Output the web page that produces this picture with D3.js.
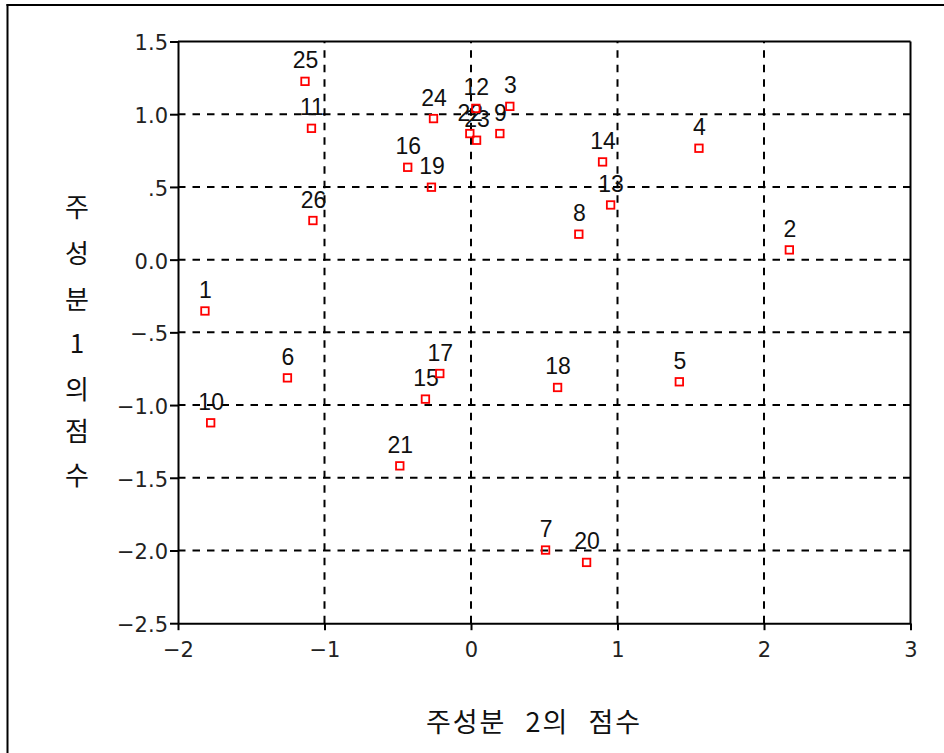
<!DOCTYPE html>
<html><head><meta charset="utf-8">
<script src="https://cdn.jsdelivr.net/npm/d3@7/dist/d3.min.js"></script>
<style>
html,body{margin:0;padding:0;background:#fff;}
svg{display:block;}
</style></head>
<body>
<svg id="chart" width="944" height="753"></svg>
<script>
// ---- data ----
const caseLabels = ["1","2","3","4","5","6","7","8","9","10","11","12","13","14","15","16","17","18","19","20","21","22","23","24","25","26"];
const pc2Scores = [-1.816, 2.173, 0.265, 1.556, 1.422, -1.253, 0.509, 0.736, 0.197, -1.777, -1.089, 0.033, 0.953, 0.898, -0.311, -0.432, -0.213, 0.591, -0.270, 0.789, -0.486, -0.008, 0.038, -0.256, -1.133, -1.079];
const pc1Scores = [-0.353, 0.067, 1.054, 0.766, -0.840, -0.813, -1.997, 0.175, 0.867, -1.122, 0.903, 1.040, 0.376, 0.672, -0.959, 0.635, -0.783, -0.879, 0.498, -2.082, -1.418, 0.867, 0.821, 0.970, 1.226, 0.269];
const xTickValues = [-2, -1, 0, 1, 2, 3];
const xTickLabels = ["\u22122", "\u22121", "0", "1", "2", "3"];
const yTickValues = [1.5, 1.0, 0.5, 0.0, -0.5, -1.0, -1.5, -2.0, -2.5];
const yTickLabels = ["1.5", "1.0", ".5", "0.0", "\u2212.5", "\u22121.0", "\u22121.5", "\u22122.0", "\u22122.5"];
const xGridValues = [-1, 0, 1, 2];
const yGridValues = [1.0, 0.5, 0.0, -0.5, -1.0, -1.5, -2.0];
const xTitle = "주성분 2의 점수";
const yTitleChars = ["주", "성", "분", "1", "의", "점", "수"];

// ---- layout ----
const svg = d3.select("#chart");
const L = 178, R = 910.5, T = 41.5, B = 623.2;
const x = d3.scaleLinear().domain([-2, 3]).range([L, R]);
const y = d3.scaleLinear().domain([-2.5, 1.5]).range([B, T]);
const numFont = "'DejaVu Sans', sans-serif";
const lblFont = "'Liberation Sans', Arial, sans-serif";
const krFont = "'Noto Sans CJK KR', sans-serif";

// outer frame (left and top edges visible)
svg.append("line").attr("x1", 7.5).attr("x2", 7.5).attr("y1", 4).attr("y2", 753)
  .attr("stroke", "#000").attr("stroke-width", 2);
svg.append("line").attr("x1", 6.5).attr("x2", 944).attr("y1", 5).attr("y2", 5)
  .attr("stroke", "#000").attr("stroke-width", 2);

// gridlines
const grid = svg.append("g").attr("stroke", "#000").attr("stroke-width", 2)
  .attr("stroke-dasharray", "7.5,7");
grid.selectAll("line.v").data(xGridValues).join("line").attr("class", "v")
  .attr("x1", d => x(d)).attr("x2", d => x(d)).attr("y1", B).attr("y2", T);
grid.selectAll("line.h").data(yGridValues).join("line").attr("class", "h")
  .attr("x1", L).attr("x2", R).attr("y1", d => y(d)).attr("y2", d => y(d));

// top and right border
svg.append("line").attr("x1", L).attr("x2", R).attr("y1", T).attr("y2", T)
  .attr("stroke", "#000").attr("stroke-width", 2);
svg.append("line").attr("x1", R).attr("x2", R).attr("y1", T).attr("y2", B)
  .attr("stroke", "#000").attr("stroke-width", 2);

// axes
const xAxis = d3.axisBottom(x).tickValues(xTickValues)
  .tickFormat((d, i) => xTickLabels[i]).tickSize(7).tickSizeOuter(0).tickPadding(12);
const yAxis = d3.axisLeft(y).tickValues(yTickValues)
  .tickFormat((d, i) => yTickLabels[i]).tickSize(8).tickSizeOuter(0).tickPadding(2);

const gx = svg.append("g").attr("transform", `translate(0,${B})`).call(xAxis);
const gy = svg.append("g").attr("transform", `translate(${L},0)`).call(yAxis);
[gx, gy].forEach(g => {
  g.select(".domain").attr("stroke", "#000").attr("stroke-width", 2);
  g.selectAll(".tick line").attr("stroke", "#000").attr("stroke-width", 2);
  g.selectAll(".tick text").attr("fill", "#222").style("font-family", numFont).style("font-size", "21px");
});
gy.selectAll(".tick text").attr("dy", "0.4em");

// titles
svg.append("text").attr("x", 534).attr("y", 732).attr("text-anchor", "middle")
  .style("font-family", krFont).style("font-size", "27px").attr("fill", "#111")
  .style("word-spacing", "11px").style("letter-spacing", "2px")
  .text(xTitle);
const yTitlePos = [205, 251, 297, 341, 387, 429, 473];
svg.append("g").selectAll("text").data(yTitleChars).join("text")
  .attr("x", 77).attr("y", (d, i) => yTitlePos[i])
  .attr("text-anchor", "middle").attr("dominant-baseline", "central")
  .style("font-family", krFont).style("font-size", "26px").attr("fill", "#111")
  .text(d => d);

// points
const pts = caseLabels.map((lab, i) => ({lab, px: pc2Scores[i], py: pc1Scores[i]}));
svg.append("g").selectAll("text").data(pts).join("text")
  .attr("x", d => x(d.px) + 0.5).attr("y", d => y(d.py) - 13)
  .attr("text-anchor", "middle")
  .style("font-family", lblFont).style("font-size", "23px").attr("fill", "#111")
  .text(d => d.lab);
const s = 7.5;
svg.append("g").selectAll("rect").data(pts).join("rect")
  .attr("x", d => x(d.px) - s / 2).attr("y", d => y(d.py) - s / 2)
  .attr("width", s).attr("height", s)
  .attr("fill", "none").attr("stroke", "#ff0000").attr("stroke-width", 1.8);
</script>
</body></html>
